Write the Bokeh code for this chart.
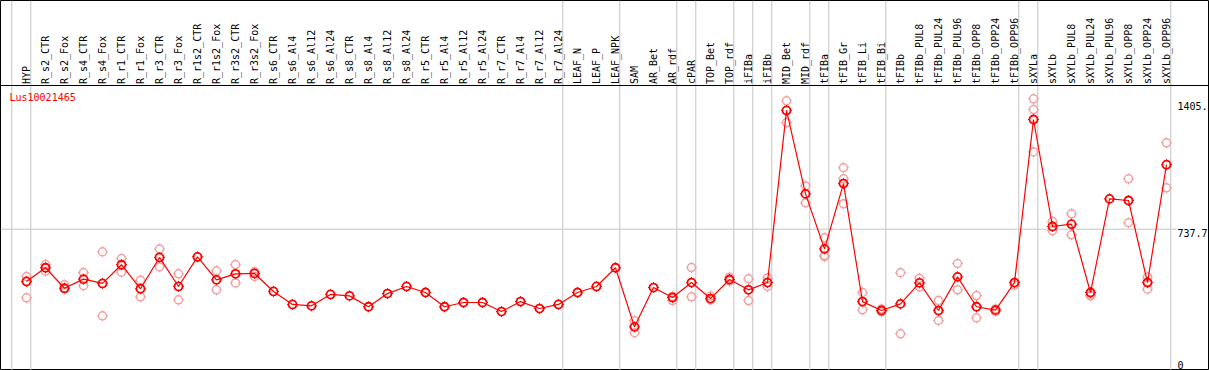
import math
from bokeh.plotting import figure
from bokeh.models import Range1d, Span, ColumnDataSource
from bokeh.core.properties import value
from bokeh.embed import file_html
from bokeh.resources import INLINE

categories = ["HYP", "R_s2_CTR", "R_s2_Fox", "R_s4_CTR", "R_s4_Fox", "R_r1_CTR", "R_r1_Fox",
              "R_r3_CTR", "R_r3_Fox", "R_r1s2_CTR", "R_r1s2_Fox", "R_r3s2_CTR", "R_r3s2_Fox",
              "R_s6_CTR", "R_s6_Al4", "R_s6_Al12", "R_s6_Al24", "R_s8_CTR", "R_s8_Al4", "R_s8_Al12",
              "R_s8_Al24", "R_r5_CTR", "R_r5_Al4", "R_r5_Al12", "R_r5_Al24", "R_r7_CTR", "R_r7_Al4",
              "R_r7_Al12", "R_r7_Al24", "LEAF_N", "LEAF_P", "LEAF_NPK", "SAM", "AR_Bet", "AR_rdf",
              "cPAR", "TOP_Bet", "TOP_rdf", "iFIBa", "iFIBb", "MID_Bet", "MID_rdf", "tFIBa",
              "tFIB_Gr", "tFIB_Li", "tFIB_Bi", "tFIBb", "tFIBb_PUL8", "tFIBb_PUL24", "tFIBb_PUL96",
              "tFIBb_OPP8", "tFIBb_OPP24", "tFIBb_OPP96", "sXYLa", "sXYLb", "sXYLb_PUL8",
              "sXYLb_PUL24", "sXYLb_PUL96", "sXYLb_OPP8", "sXYLb_OPP24", "sXYLb_OPP96"]

# first index of each sample group (separators drawn before these)
group_starts = [0, 1, 29, 32, 35, 36, 38, 39, 40, 42, 43, 46, 53, 54, 61]

means = [444, 521, 406, 457, 433, 538, 403, 579, 416, 582, 453, 487, 489,
         388, 315, 307, 371, 363, 302, 376, 416, 382, 302, 326, 326, 275, 331, 292, 315,
         382, 416, 521, 189, 410, 354, 438, 348, 455, 397, 438, 1405, 936, 627,
         994, 331, 281, 318, 436, 281, 470, 302, 283, 438, 1354, 753, 766,
         382, 908, 899, 438, 1100]

replicates = [[472, 352], [539, 502], [425, 401], [494, 420], [611, 251], [573, 496],
              [451, 358], [627, 526], [487, 341], [], [504, 397], [539, 436], [498, 472],
              [], [], [], [], [], [], [], [], [], [], [], [], [], [], [], [],
              [], [], [], [223, 156], [], [360, 337], [522, 358], [362, 340], [468, 446],
              [459, 337], [464, 416], [1459, 1337], [981, 886], [689, 590, 584],
              [1083, 1021, 880], [382, 285], [290, 274], [493, 150], [462, 414],
              [337, 225], [545, 397], [365, 240], [290, 275], [425],
              [1470, 1410, 1172], [781, 729], [824, 706], [368, 363], [], [1021, 774],
              [468, 401], [1223, 970]]

tick_values = [0, 737.7, 1405]
tick_labels = ["0", "737.7", "1405."]
grid_value = 737.7
title_text = "Lus10021465"

W, H = 1209, 370
X0, DX = 26.0, 19.0            # pixel position of first category, spacing
Y0, K = 360.0, 131.3 / 737.7   # pixel row of value 0, pixels per unit


def px_x(px):
    return (px - X0) / DX


def px_y(py):
    return (Y0 - py) / K


p = figure(width=W, height=H, output_backend="svg", toolbar_location=None,
           x_range=Range1d(px_x(0), px_x(W)), y_range=Range1d(px_y(H), px_y(0)),
           min_border=0, min_border_left=0, min_border_right=0, min_border_top=0,
           min_border_bottom=0)
p.xaxis.visible = False
p.yaxis.visible = False
p.grid.visible = False
p.outline_line_color = "black"
p.outline_line_width = 1
p.background_fill_color = "white"
p.border_fill_color = "white"

# group separators
for b in group_starts:
    p.add_layout(Span(location=b - 0.774, dimension="height", line_color="#c4c4c4",
                      line_width=1, level="underlay"))

# header separator
p.add_layout(Span(location=px_y(85), dimension="width", line_color="black",
                  line_width=1, level="underlay"))

# mid grid line
p.line([px_x(0), px_x(1176)], [grid_value, grid_value], line_color="#c4c4c4", line_width=1)

xs = list(range(len(categories)))

rx, ry = [], []
for i, reps in enumerate(replicates):
    for v in reps:
        rx.append(i)
        ry.append(v)
rep_src = ColumnDataSource(dict(x=rx, y=ry))
mean_src = ColumnDataSource(dict(x=xs, y=means))

REP = "#f2a0a0"
RED = "#ff0000"
# small outside ticks: crosses masked by white discs
p.scatter("x", "y", source=rep_src, marker="cross", size=11, line_color=REP, line_width=1)
p.scatter("x", "y", source=rep_src, marker="circle", size=8, line_color=None, fill_color="white")
p.scatter("x", "y", source=mean_src, marker="cross", size=11, line_color=RED, line_width=1)
p.scatter("x", "y", source=mean_src, marker="circle", size=8, line_color=None, fill_color="white")
p.scatter("x", "y", source=rep_src, marker="circle", size=8, line_color=REP,
          line_width=1.5, fill_color=None)
p.line("x", "y", source=mean_src, line_color=RED, line_width=1.2)
p.scatter("x", "y", source=mean_src, marker="circle", size=8, line_color=RED,
          line_width=1.8, fill_color=None)

# category labels (vertical)
lab_src = ColumnDataSource(dict(x=xs, y=[px_y(83.5)] * len(xs), t=categories))
p.text("x", "y", text="t", source=lab_src, angle=math.pi / 2, text_align="left",
       text_baseline="middle", text_font=value("DejaVu Sans Mono"), text_font_size="10px",
       text_color="black")

# right value labels
tick_src = ColumnDataSource(dict(x=[px_x(1177)] * 3, y=tick_values, t=tick_labels,
                                 b=["top", "top", "bottom"]))
p.text("x", "y", text="t", source=tick_src, text_align="left", text_baseline="b",
       text_font=value("DejaVu Sans Mono"), text_font_size="10px", text_color="black")

# gene name
p.text(x=[px_x(9)], y=[px_y(91)], text=[title_text], text_align="left", text_baseline="top",
       text_font=value("DejaVu Sans Mono"), text_font_size="10px", text_color=RED)

open("out.html", "w").write(file_html(p, INLINE))
